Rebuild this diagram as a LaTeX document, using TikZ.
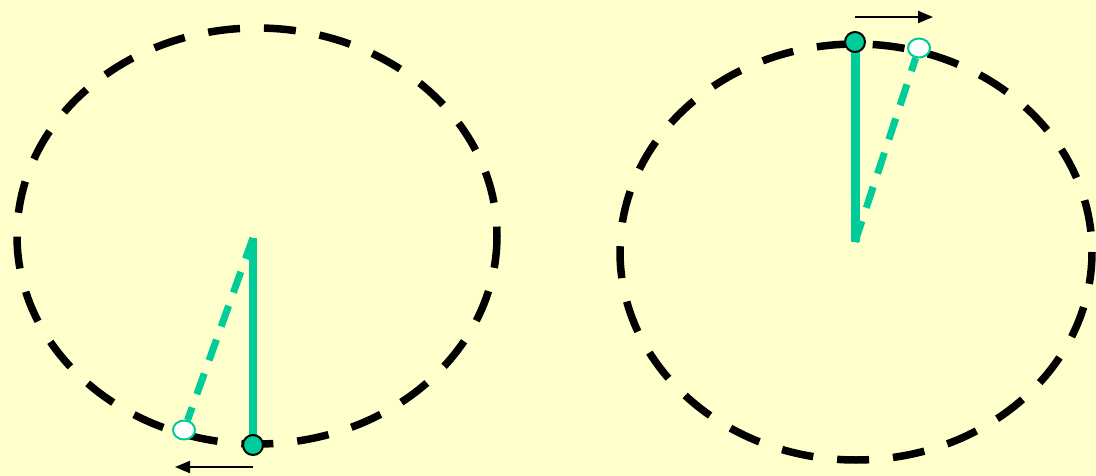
\documentclass[tikz,border=0pt]{standalone}
\usetikzlibrary{arrows.meta,shapes.geometric}
\definecolor{padPaper}{HTML}{FFFFCC}
\definecolor{padGreen}{HTML}{00CC99}
\begin{document}
\begin{tikzpicture}[x=1pt,y=-1pt,>={Triangle[length=15pt,width=12pt]},line join=round]
\path[fill=padPaper] (0,0) rectangle (1096,476);
\tikzset{orbit/.style={draw=black,line width=7.5pt,dash pattern=on 32pt off 24pt},rod/.style={draw=padGreen,line width=8pt},rodghost/.style={draw=padGreen,line width=7pt,dash pattern=on 22pt off 14pt},bob/.style={circle,draw=black,fill=padGreen,line width=2pt,minimum size=20pt,inner sep=0pt},bobghost/.style={ellipse,draw=padGreen,fill=white,line width=2pt,minimum width=22pt,minimum height=19pt,inner sep=0pt},motion/.style={draw=black,line width=2pt,->}}
% left swing
\draw[orbit] (257,236) ellipse (240 and 208);
\coordinate (pivotL) at (253,238);
\node[bobghost] (ghostL) at (184,430) {};
\draw[rodghost] (pivotL) -- (ghostL);
\draw[rod] (pivotL) -- (253,445);
\node[bob] (bobL) at (253,445) {};
\coordinate (arrL) at (253,467); \coordinate (arrLend) at (175,467);
\draw[motion] (arrL) -- (arrLend);
% right swing
\draw[orbit] (856,252) ellipse (236 and 208);
\coordinate (pivotR) at (855,242);
\node[bobghost] (ghostR) at (919,48) {};
\draw[rodghost] (pivotR) -- (ghostR);
\draw[rod,line width=9pt] (pivotR) -- (855,42);
\node[bob] (bobR) at (855,42) {};
\coordinate (arrR) at (855,17); \coordinate (arrRend) at (933,17);
\draw[motion] (arrR) -- (arrRend);
\end{tikzpicture}
\end{document}
